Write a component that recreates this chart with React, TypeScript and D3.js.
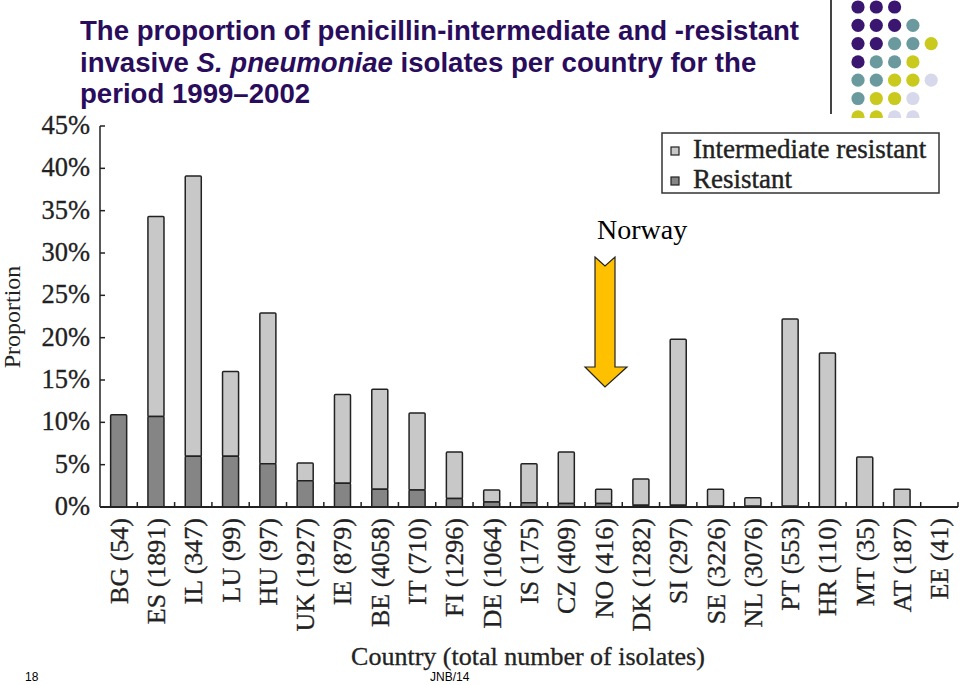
import React from "react";
import * as d3 from "d3";

// countries with total number of isolates
const countries = [
  "BG (54)", "ES (1891)", "IL (347)", "LU (99)", "HU (97)", "UK (1927)",
  "IE (879)", "BE (4058)", "IT (710)", "FI (1296)", "DE (1064)", "IS (175)",
  "CZ (409)", "NO (416)", "DK (1282)", "SI (297)", "SE (3226)", "NL (3076)",
  "PT (553)", "HR (110)", "MT (35)", "AT (187)", "EE (41)",
];
// percent resistant
const resistant = [
  10.9, 10.7, 6.0, 6.0, 5.1, 3.1, 2.8, 2.1, 2.0, 1.0, 0.6, 0.5,
  0.4, 0.4, 0.2, 0.2, 0.1, 0.1, 0.1, 0, 0, 0, 0,
];
// percent intermediate resistant (stacked on top)
const intermediate = [
  0, 23.6, 33.1, 10.0, 17.8, 2.1, 10.5, 11.8, 9.1, 5.5, 1.4, 4.6,
  6.1, 1.7, 3.1, 19.6, 2.0, 1.0, 22.1, 18.2, 5.9, 2.1, 0,
];
const yTicks = [0, 5, 10, 15, 20, 25, 30, 35, 40, 45];
const legendLabels = ["Intermediate resistant", "Resistant"];

const titleLines = [
  "The proportion of penicillin-intermediate and -resistant",
  "invasive |S. pneumoniae| isolates per country for the",
  "period 1999\u20132002",
];

// decorative dot grid, top right
const dotRows = ["PPP", "PPPT", "PPTTY", "PTTY", "TTYYL", "TYYL", "YYLL"];
const dotColors: Record<string, string> = {
  P: "#3a1670",
  T: "#6b9a9e",
  Y: "#c9c91e",
  L: "#d8d8ec",
};

const serif = "'Liberation Serif', 'DejaVu Serif', serif";
const sans = "'Liberation Sans', Arial, sans-serif";

export default function App() {
  const width = 960;
  const height = 685;

  const x = d3.scaleBand<string>().domain(countries).range([100, 958]).paddingInner(0.57).paddingOuter(0.285);
  const y = d3.scaleLinear().domain([0, 45]).range([507, 126]);
  const step = x.step();
  const bw = x.bandwidth();

  const data = countries.map((c, i) => ({
    c,
    r: resistant[i],
    m: intermediate[i],
  }));

  const arrow = "595,257 605,266 615,257 615,367 627,367 605,387 585,367 595,367";

  return (
    <svg width={width} height={height} style={{ position: "absolute", left: 0, top: 0, background: "#fff" }}>
      <defs>
        <clipPath id="dot-clip">
          <rect x={830} y={0} width={130} height={118} />
        </clipPath>
      </defs>

      {/* title */}
      <text fontFamily={sans} fontWeight="bold" fontSize={27.6} fill="#2a0c5c">
        {titleLines.map((line, i) => (
          <tspan key={i} x={80} y={40 + i * 31.5}>
            {line.split("|").map((part, j) => (
              <tspan key={j} fontStyle={j % 2 === 1 ? "italic" : "normal"}>{part}</tspan>
            ))}
          </tspan>
        ))}
      </text>

      {/* decoration */}
      <line x1={831} x2={831} y1={0} y2={114} stroke="#444" strokeWidth={2} />
      <g clipPath="url(#dot-clip)">
        {dotRows.map((row, ri) =>
          row.split("").map((k, ci) => (
            <circle key={ri + "-" + ci} cx={858 + ci * 18.3} cy={7 + ri * 18.3} r={6.6} fill={dotColors[k]} />
          ))
        )}
      </g>

      {/* y axis */}
      <line x1={100} x2={100} y1={y(45)} y2={y(0)} stroke="#222" strokeWidth={1.5} />
      {yTicks.map((t) => (
        <g key={t}>
          <line x1={100} x2={105} y1={y(t)} y2={y(t)} stroke="#222" strokeWidth={1.5} />
          <text x={90} y={y(t) + 8} textAnchor="end" fontFamily={serif} fontSize={26.5} fill="#222" stroke="#222" strokeWidth={0.3}>
            {t + "%"}
          </text>
        </g>
      ))}
      <text
        transform={`translate(20, 317) rotate(-90)`}
        textAnchor="middle"
        fontFamily={serif}
        fontSize={24}
        fill="#222"
      >
        Proportion
      </text>

      {/* bars */}
      {data.map((d) => (
        <g key={d.c}>
          {d.m > 0 && (
            <rect
              x={x(d.c)}
              y={y(d.r + d.m)}
              width={bw}
              height={y(d.r) - y(d.r + d.m)}
              fill="#c8c8c8"
              stroke="#222"
              strokeWidth={1.5}
              rx={1}
            />
          )}
          {d.r > 0 && (
            <rect
              x={x(d.c)}
              y={y(d.r)}
              width={bw}
              height={y(0) - y(d.r)}
              fill="#858585"
              stroke="#222"
              strokeWidth={1.5}
              rx={1}
            />
          )}
        </g>
      ))}

      {/* x axis */}
      <line x1={100} x2={958} y1={y(0)} y2={y(0)} stroke="#222" strokeWidth={2} />
      {countries.map((c, i) => (
        <line key={c} x1={100 + (i + 1) * step} x2={100 + (i + 1) * step} y1={y(0)} y2={y(0) - 5} stroke="#222" strokeWidth={1.5} />
      ))}
      {countries.map((c) => {
        const cx = (x(c) || 0) + bw / 2;
        return (
          <text
            key={c}
            transform={`translate(${cx + 9}, 518) rotate(-90)`}
            textAnchor="end"
            fontFamily={serif}
            fontSize={26}
            fill="#222"
            stroke="#222"
            strokeWidth={0.3}
          >
            {c}
          </text>
        );
      })}
      <text x={528} y={665} textAnchor="middle" fontFamily={serif} fontSize={26} fill="#222" stroke="#222" strokeWidth={0.3}>
        Country (total number of isolates)
      </text>

      {/* legend */}
      <rect x={662} y={133} width={277} height={60} fill="#fff" stroke="#333" strokeWidth={1.5} />
      {legendLabels.map((l, i) => (
        <g key={l}>
          <rect x={671} y={147 + i * 30} width={8} height={8} fill={i === 0 ? "#c8c8c8" : "#858585"} stroke="#222" strokeWidth={1.2} />
          <text x={693} y={158 + i * 30} fontFamily={serif} fontSize={27} fill="#222" stroke="#222" strokeWidth={0.4}>
            {l}
          </text>
        </g>
      ))}

      {/* Norway annotation */}
      <text x={597} y={239} fontFamily={serif} fontSize={28} fill="#000">
        Norway
      </text>
      <polygon points={arrow} fill="#ffc000" stroke="#222" strokeWidth={1.2} />

      {/* footer */}
      <text x={25} y={681} fontFamily={sans} fontSize={12} fill="#000">18</text>
      <text x={430} y={681} fontFamily={sans} fontSize={12} fill="#000">JNB/14</text>
    </svg>
  );
}
